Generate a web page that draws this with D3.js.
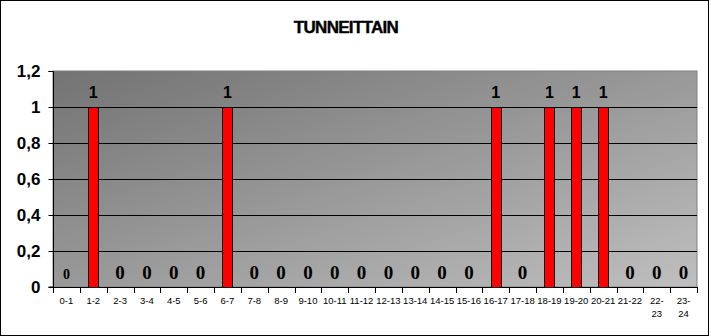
<!DOCTYPE html>
<html>
<head>
<meta charset="utf-8">
<script src="https://cdn.jsdelivr.net/npm/d3@7"></script>
<style>
  body { margin: 0; background: #fff; }
  svg { display: block; }
</style>
</head>
<body>
<div id="chart"></div>
<script>
// hours of the day and count per hour
var hours = ["0-1","1-2","2-3","3-4","4-5","5-6","6-7","7-8","8-9","9-10","10-11","11-12",
             "12-13","13-14","14-15","15-16","16-17","17-18","18-19","19-20","20-21","21-22","22-23","23-24"];
var counts = [0,1,0,0,0,0,1,0,0,0,0,0,0,0,0,0,1,0,1,1,1,0,0,0];
var yTicks = [0, 0.2, 0.4, 0.6, 0.8, 1, 1.2];
var title = "TUNNEITTAIN";

var W = 711, H = 336;
var margin = {top: 71, right: 14, bottom: 49, left: 53};
var width = W - margin.left - margin.right,
    height = H - margin.top - margin.bottom;

var svg = d3.select("#chart").append("svg")
    .attr("width", W)
    .attr("height", H);

// outer frame
svg.append("rect")
    .attr("x", 0.5).attr("y", 0.5)
    .attr("width", W - 3).attr("height", H - 1)
    .attr("fill", "#fff")
    .attr("stroke", "#000");

var defs = svg.append("defs");
var grad = defs.append("linearGradient")
    .attr("id", "bg")
    .attr("x1", 0).attr("y1", 0).attr("x2", 1).attr("y2", 1);
grad.append("stop").attr("offset", "0%").attr("stop-color", "#737373");
grad.append("stop").attr("offset", "100%").attr("stop-color", "#bfbfbf");

svg.append("text")
    .attr("x", 346)
    .attr("y", 33)
    .attr("text-anchor", "middle")
    .style("font-family", "Arial, 'Liberation Sans', sans-serif")
    .style("font-weight", "bold")
    .style("font-size", "17px")
    .style("letter-spacing", "-0.7px")
    .style("stroke", "#000")
    .style("stroke-width", "0.4px")
    .text(title);

var g = svg.append("g")
    .attr("transform", "translate(" + margin.left + "," + margin.top + ")");

var x = d3.scaleBand().domain(hours).range([0, width]);
var y = d3.scaleLinear().domain([0, 1.2]).range([height, 0]);

g.append("rect")
    .attr("width", width)
    .attr("height", height)
    .attr("fill", "url(#bg)")
    .attr("stroke", "#808080")
    .attr("stroke-width", 1);

// gridlines
g.selectAll(".grid")
    .data(yTicks.filter(function(d) { return d > 0 && d < 1.2; }))
    .enter().append("line")
    .attr("x1", 0).attr("x2", width)
    .attr("y1", function(d) { return Math.round(y(d)) + 0.5; })
    .attr("y2", function(d) { return Math.round(y(d)) + 0.5; })
    .attr("stroke", "#000");

// bars
var barW = 10;
g.selectAll(".bar")
    .data(counts.map(function(v, i) { return {h: hours[i], v: v}; }).filter(function(d) { return d.v > 0; }))
    .enter().append("rect")
    .attr("x", function(d) { return Math.round(x(d.h) + x.bandwidth() / 2 - barW / 2) + 0.5; })
    .attr("y", function(d) { return Math.round(y(d.v)) + 0.5; })
    .attr("width", barW)
    .attr("height", function(d) { return y(0) - Math.round(y(d.v)); })
    .attr("fill", "#ff0000")
    .attr("stroke", "#000");

// value labels
g.selectAll(".lbl")
    .data(counts.map(function(v, i) { return {h: hours[i], v: v, i: i}; }))
    .enter().append("text")
    .attr("x", function(d) { return x(d.h) + x.bandwidth() / 2; })
    .attr("y", function(d) { return d.v > 0 ? y(d.v) - 9 : y(0) - 8; })
    .attr("text-anchor", "middle")
    .style("font-family", function(d) { return d.v > 0 ? "Arial, 'Liberation Sans', sans-serif" : "'Liberation Serif', 'Times New Roman', serif"; })
    .style("font-weight", "bold")
    .style("font-size", function(d) { return d.v > 0 ? "16px" : (d.i === 0 ? "14px" : "19px"); })
    .text(function(d) { return d.v; });

// y axis
var yAxis = d3.axisLeft(y)
    .tickValues(yTicks)
    .tickSize(5)
    .tickFormat(function(d) { return String(d).replace(".", ","); });
var ya = g.append("g").attr("transform", "translate(0.5,0)").call(yAxis);
ya.select(".domain").attr("stroke", "#000").attr("d", "M-5," + (Math.round(y(1.2)) + 0.5) + "H0V" + height + "H-5");
ya.selectAll(".tick line").attr("stroke", "#000");
ya.selectAll(".tick").attr("transform", function(d) { return "translate(0," + (Math.round(y(d)) + 0.5) + ")"; });
ya.selectAll("text")
    .attr("x", -13)
    .style("font-family", "Arial, 'Liberation Sans', sans-serif")
    .style("font-weight", "bold")
    .style("font-size", "17px")
    .attr("fill", "#000");

// x axis
var xa = g.append("g").attr("transform", "translate(0," + height + ")");
xa.append("line")
    .attr("x1", 0).attr("x2", width)
    .attr("y1", 0.5).attr("y2", 0.5)
    .attr("stroke", "#000");
xa.selectAll(".xt")
    .data(d3.range(hours.length + 1))
    .enter().append("line")
    .attr("x1", function(i) { return Math.round(i * x.step()) + 0.5; })
    .attr("x2", function(i) { return Math.round(i * x.step()) + 0.5; })
    .attr("y1", 0).attr("y2", 6)
    .attr("stroke", "#000");
xa.selectAll(".xl")
    .data(hours)
    .enter().append("text")
    .attr("x", function(d) { return x(d) + x.bandwidth() / 2; })
    .attr("y", 17)
    .attr("text-anchor", "middle")
    .style("font-family", "Arial, 'Liberation Sans', sans-serif")
    .style("font-size", "9.5px")
    .each(function(d, i) {
        var t = d3.select(this);
        if (i >= 22) {
            var p = d.split("-");
            t.append("tspan").attr("x", x(d) + x.bandwidth() / 2).text(p[0] + "-");
            t.append("tspan").attr("x", x(d) + x.bandwidth() / 2).attr("dy", 13).text(p[1]);
        } else {
            t.text(d);
        }
    });
</script>
</body>
</html>
